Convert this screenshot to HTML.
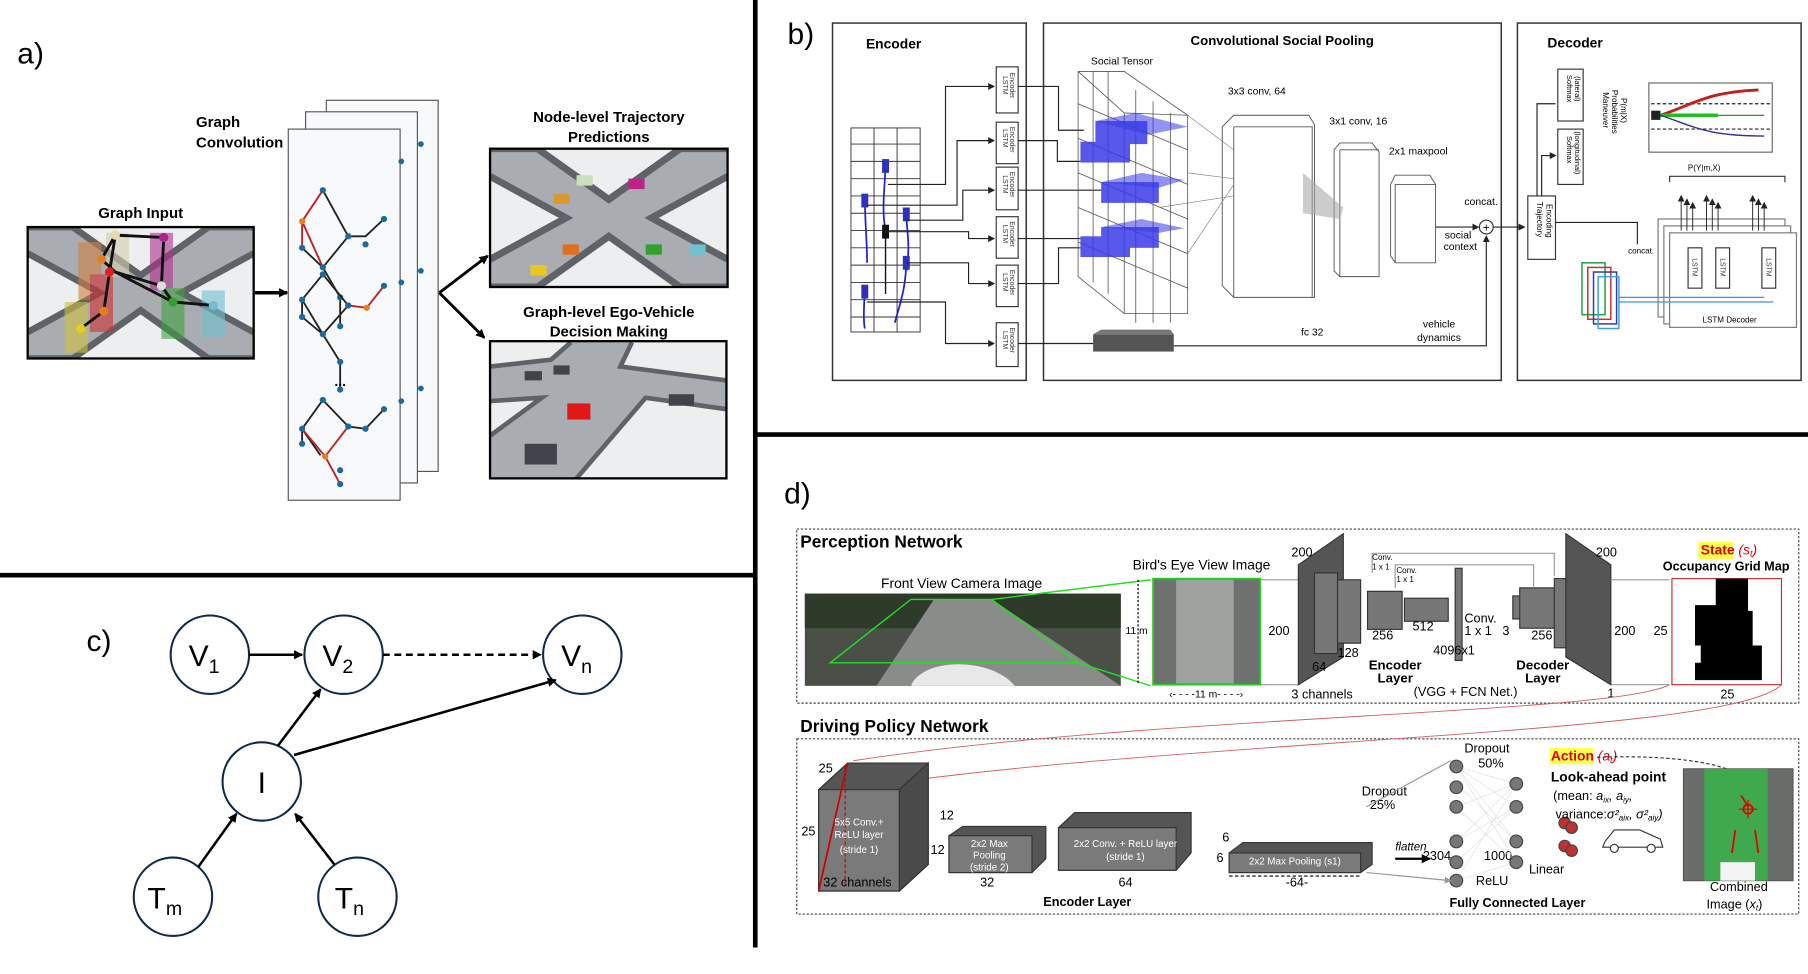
<!DOCTYPE html>
<html><head><meta charset="utf-8"><style>
html,body{margin:0;padding:0;background:#fff}
svg{display:block}
text{font-family:"Liberation Sans",sans-serif}
</style></head><body>
<svg width="1808" height="974" viewBox="0 0 1568 845" preserveAspectRatio="none" xmlns="http://www.w3.org/2000/svg">
<defs>
<marker id="ah" markerWidth="8" markerHeight="8" refX="7" refY="4" orient="auto" markerUnits="userSpaceOnUse"><path d="M0,0L8,4L0,8z" fill="#000"/></marker>
<marker id="ahs" markerWidth="6" markerHeight="6" refX="5" refY="3" orient="auto" markerUnits="userSpaceOnUse"><path d="M0,0L6,3L0,6z" fill="#222"/></marker>
<marker id="ahg" markerWidth="6" markerHeight="6" refX="5" refY="3" orient="auto" markerUnits="userSpaceOnUse"><path d="M0,0L6,3L0,6z" fill="#999"/></marker>
<marker id="ahr" markerWidth="8" markerHeight="8" refX="7" refY="4" orient="auto" markerUnits="userSpaceOnUse"><path d="M0,0L8,4L0,8z" fill="#c00"/></marker>
<g id="xroad">
<rect x="0" y="0" width="100" height="60" fill="#eceeef"/>
<path d="M0,0L20,0L50,22L80,0L100,0L100,12L68,30L100,48L100,60L80,60L50,38L20,60L0,60L0,48L32,30L0,12z" fill="#a9adb1"/>
<path d="M0,0L20,0L50,22L80,0L100,0M100,60L80,60L50,38L20,60L0,60" fill="none" stroke="#5f6368" stroke-width="3"/>
<path d="M0,12L32,30L0,48M100,12L68,30L100,48" fill="none" stroke="#5f6368" stroke-width="3"/>
</g>
</defs>

<!-- dividers -->
<rect x="653" y="0" width="4" height="822" fill="#000"/>
<rect x="0" y="497" width="655" height="4" fill="#000"/>
<rect x="655" y="375" width="913" height="4" fill="#000"/>

<text x="15" y="55" font-size="26">a)</text>
<text x="683" y="38" font-size="26">b)</text>
<text x="75" y="565" font-size="26">c)</text>
<text x="680" y="437" font-size="26">d)</text>

<!-- ===== panel a ===== -->
<text x="122" y="189" font-size="13" font-weight="bold" text-anchor="middle">Graph Input</text>
<svg x="24" y="197" width="196" height="114" viewBox="0 0 100 60" preserveAspectRatio="none"><use href="#xroad"/></svg>
<rect x="24" y="197" width="196" height="114" fill="none" stroke="#000" stroke-width="2"/>
<g opacity="0.6">
<rect x="68" y="210" width="20" height="50" fill="#d08040"/><rect x="78" y="238" width="20" height="50" fill="#d03030"/>
<rect x="56" y="262" width="20" height="44" fill="#d0c040"/><rect x="130" y="202" width="20" height="50" fill="#b03090"/>
<rect x="140" y="250" width="20" height="44" fill="#40a040"/><rect x="175" y="252" width="20" height="40" fill="#70c0d0"/>
<rect x="92" y="202" width="20" height="38" fill="#d8d0b0"/>
</g>
<g stroke="#111" stroke-width="2.5" fill="none"><path d="M88,225L100,204L142,206L140,248L100,236L88,225M100,204L95,236L90,270L70,285M140,248L150,262L185,265M100,236L150,262"/></g>
<g><circle cx="88" cy="225" r="4" fill="#e08020"/><circle cx="100" cy="204" r="4" fill="#e8d8b0"/><circle cx="142" cy="206" r="4" fill="#b0208a"/><circle cx="140" cy="248" r="4" fill="#ddd"/><circle cx="95" cy="236" r="4" fill="#e02020"/><circle cx="90" cy="270" r="4" fill="#e08020"/><circle cx="70" cy="285" r="4" fill="#e0d020"/><circle cx="150" cy="262" r="4" fill="#30a030"/><circle cx="185" cy="265" r="4" fill="#70c0d0"/></g>
<line x1="221" y1="254" x2="249" y2="254" stroke="#000" stroke-width="3" marker-end="url(#ah)"/>
<text x="170" y="110" font-size="13" font-weight="bold">Graph</text>
<text x="170" y="128" font-size="13" font-weight="bold">Convolution</text>
<rect x="283" y="87" width="97" height="322" fill="#f8f9fb" stroke="#555"/>
<rect x="265" y="97" width="97" height="322" fill="#f8f9fb" stroke="#555"/>
<rect x="250" y="112" width="97" height="322" fill="#f8f9fb" stroke="#555"/>
<g fill="#1a6aa0">
<circle cx="365" cy="125" r="2.5"/><circle cx="348" cy="140" r="2.5"/><circle cx="348" cy="348" r="2.5"/><circle cx="365" cy="337" r="2.5"/><circle cx="365" cy="235" r="2.5"/><circle cx="348" cy="245" r="2.5"/>
</g>
<g id="gr1" fill="none" stroke-width="1.6">
<path d="M280,165L302,205L317,205L333,190M302,205L280,232L262,215M280,232L295,258L295,283" stroke="#222"/>
<path d="M280,165L262,192L262,215M262,192L280,232" stroke="#c02020"/>
</g>
<g fill="#1a6aa0"><circle cx="280" cy="165" r="2.7"/><circle cx="302" cy="205" r="2.7"/><circle cx="317" cy="212" r="2.7"/><circle cx="333" cy="190" r="2.7"/><circle cx="262" cy="215" r="2.7"/><circle cx="280" cy="232" r="2.7"/><circle cx="295" cy="258" r="2.7"/><circle cx="295" cy="283" r="2.7"/><circle cx="262" cy="192" r="2.7" fill="#e08020"/></g>
<g fill="none" stroke-width="1.6">
<path d="M280,238L262,260L262,275L280,290L302,265L280,238M280,290L295,314L295,338M262,260L280,290" stroke="#222"/>
<path d="M302,265L318,267L333,248" stroke="#c02020"/>
</g>
<g fill="#1a6aa0"><circle cx="280" cy="238" r="2.7"/><circle cx="262" cy="260" r="2.7"/><circle cx="262" cy="275" r="2.7"/><circle cx="280" cy="290" r="2.7"/><circle cx="302" cy="265" r="2.7"/><circle cx="295" cy="314" r="2.7"/><circle cx="295" cy="338" r="2.7"/><circle cx="333" cy="248" r="2.7"/><circle cx="318" cy="267" r="2.7" fill="#e08020"/></g>
<text x="295" y="335" font-size="12" text-anchor="middle" font-weight="bold">...</text>
<g fill="none" stroke-width="1.6">
<path d="M280,347L262,372L262,385M280,347L302,370L317,372L333,355M262,372L278,395" stroke="#222"/>
<path d="M262,372L282,396L302,370M282,396L295,420" stroke="#c02020"/>
</g>
<g fill="#1a6aa0"><circle cx="280" cy="347" r="2.7"/><circle cx="262" cy="372" r="2.7"/><circle cx="262" cy="385" r="2.7"/><circle cx="302" cy="370" r="2.7"/><circle cx="317" cy="372" r="2.7"/><circle cx="333" cy="355" r="2.7"/><circle cx="295" cy="408" r="2.7"/><circle cx="295" cy="420" r="2.7"/><circle cx="282" cy="396" r="2.7" fill="#e08020"/></g>
<path d="M381,254L423,222" stroke="#000" stroke-width="2.5" marker-end="url(#ah)"/>
<path d="M381,254L420,293" stroke="#000" stroke-width="2.5" marker-end="url(#ah)"/>
<text x="528" y="106" font-size="13" font-weight="bold" text-anchor="middle">Node-level Trajectory</text>
<text x="528" y="123" font-size="13" font-weight="bold" text-anchor="middle">Predictions</text>
<svg x="425" y="129" width="206" height="120" viewBox="0 0 100 60" preserveAspectRatio="none"><use href="#xroad"/></svg>
<rect x="425" y="129" width="206" height="120" fill="none" stroke="#000" stroke-width="2"/>
<g><rect x="480" y="168" width="14" height="9" fill="#d89a30"/><rect x="545" y="155" width="14" height="9" fill="#c0208a"/><rect x="488" y="212" width="14" height="9" fill="#e07020"/><rect x="460" y="230" width="14" height="9" fill="#e8c820"/><rect x="560" y="212" width="14" height="9" fill="#30a030"/><rect x="598" y="212" width="14" height="9" fill="#70c0d0"/><rect x="500" y="152" width="14" height="9" fill="#c8e0c0"/></g>
<text x="528" y="275" font-size="13" font-weight="bold" text-anchor="middle">Graph-level Ego-Vehicle</text>
<text x="528" y="292" font-size="13" font-weight="bold" text-anchor="middle">Decision Making</text>
<rect x="425" y="296" width="205" height="119" fill="#eceeef"/>
<path d="M425,318L478,312L495,297L548,297L538,318L630,330L630,355L560,345L500,415L425,415L425,378L470,345L425,348z" fill="#a9adb1"/>
<path d="M425,318L478,312L495,297M548,297L538,318L630,330M630,355L560,345L500,415M425,378L470,345L425,348" fill="none" stroke="#5f6368" stroke-width="4"/>
<rect x="492" y="350" width="20" height="14" fill="#e01818"/><rect x="455" y="385" width="28" height="18" fill="#40444a"/>
<rect x="455" y="322" width="15" height="8" fill="#40444a"/><rect x="580" y="342" width="22" height="10" fill="#40444a"/><rect x="480" y="317" width="14" height="8" fill="#40444a"/>
<rect x="425" y="296" width="205" height="119" fill="none" stroke="#000" stroke-width="2"/>

<!-- ===== panel b ===== -->
<g fill="none" stroke="#333" stroke-width="1.3">
<rect x="722" y="20" width="168" height="310"/><rect x="905" y="20" width="397" height="310"/><rect x="1316" y="20" width="246" height="310"/>
</g>
<text x="751" y="42" font-size="12" font-weight="bold">Encoder</text>
<text x="1112" y="39" font-size="11.5" font-weight="bold" text-anchor="middle">Convolutional Social Pooling</text>
<text x="1342" y="41" font-size="12" font-weight="bold">Decoder</text>
<g stroke="#333" stroke-width="0.8" fill="none">
<rect x="738" y="111" width="60" height="177"/>
<path d="M758,111V288M778,111V288M738,125H798M738,140H798M738,155H798M738,170H798M738,185H798M738,200H798M738,215H798M738,230H798M738,245H798M738,260H798M738,275H798"/>
</g>
<g stroke="#2020d0" stroke-width="1.5" fill="none"><path d="M768,140C768,160 764,180 768,200M750,170C750,190 752,210 752,228M786,185C786,200 790,210 786,235M786,225C786,250 780,265 776,280M750,250C750,260 748,275 750,285"/></g>
<path d="M768,195V255" stroke="#111" stroke-width="1.2"/>
<g fill="#3030c0"><rect x="765" y="138" width="6" height="12"/><rect x="747" y="168" width="6" height="12"/><rect x="783" y="180" width="6" height="12"/><rect x="783" y="222" width="6" height="12"/><rect x="747" y="247" width="6" height="12"/></g><rect x="765" y="195" width="6" height="12" fill="#111"/>
<g fill="#fff" stroke="#333"><rect x="864" y="58" width="19" height="40"/><rect x="864" y="106" width="19" height="36"/><rect x="864" y="145" width="19" height="37"/><rect x="864" y="188" width="19" height="36"/><rect x="864" y="230" width="19" height="36"/><rect x="864" y="280" width="19" height="38"/></g>
<g font-size="6" fill="#333"><text transform="translate(870,66) rotate(90)">LSTM</text><text transform="translate(876,63) rotate(90)">Encoder</text>
<text transform="translate(870,112) rotate(90)">LSTM</text><text transform="translate(876,110) rotate(90)">Encoder</text>
<text transform="translate(870,152) rotate(90)">LSTM</text><text transform="translate(876,149) rotate(90)">Encoder</text>
<text transform="translate(870,195) rotate(90)">LSTM</text><text transform="translate(876,192) rotate(90)">Encoder</text>
<text transform="translate(870,237) rotate(90)">LSTM</text><text transform="translate(876,234) rotate(90)">Encoder</text>
<text transform="translate(870,287) rotate(90)">LSTM</text><text transform="translate(876,284) rotate(90)">Encoder</text></g>
<g stroke="#222" stroke-width="1" fill="none" marker-end="url(#ahs)">
<path d="M770,160H820V75H862"/><path d="M752,178H830V122H862"/><path d="M786,191H835V165H862"/><path d="M770,201H840V207H862"/><path d="M786,228H840V246H862"/><path d="M752,262H820V298H862"/>
</g>
<g stroke="#222" stroke-width="1" fill="none">
<path d="M883,75H918V113H940"/><path d="M883,122H917V140H937"/><path d="M883,165H955"/><path d="M883,207H937"/><path d="M883,246H918V215H937"/><path d="M883,298H948"/>
</g>
<text x="973" y="56" font-size="9" text-anchor="middle">Social Tensor</text>
<g stroke="#555" stroke-width="0.7" fill="none">
<path d="M935,62L975,62L1030,100L1030,272L975,272M935,62L935,240L975,272L975,98L935,62M975,98L1030,100"/>
<path d="M948,62V245M961,62V255M985,78V280M1000,88V280M1015,98V280M935,90L1030,130M935,120L1030,160M935,150L1030,190M935,180L1030,220M935,210L1030,250"/>
</g>
<g fill="#3a3ae8" opacity="0.85"><rect x="950" y="105" width="45" height="20"/><rect x="937" y="123" width="43" height="18"/><rect x="955" y="158" width="50" height="18"/><rect x="955" y="197" width="50" height="18"/><rect x="937" y="205" width="43" height="18"/></g>
<g fill="#3a3ae8" opacity="0.55"><path d="M950,105L985,98L1030,110L995,117z"/><path d="M955,158L990,150L1027,156L1005,163z"/><path d="M955,197L990,190L1027,198L1005,202z"/></g>
<text x="1090" y="82" font-size="9" text-anchor="middle">3x3 conv, 64</text>
<g stroke="#555" stroke-width="0.8" fill="none"><path d="M1060,110L1070,100L1135,100L1140,108L1140,258L1070,258L1060,248z M1070,110H1138V258M1070,110V258"/></g>
<g stroke="#888" stroke-width="0.6" fill="none"><path d="M1030,100L1070,130M1030,150L1070,155M1005,180L1070,170M1030,220L1070,160"/></g>
<text x="1178" y="108" font-size="9" text-anchor="middle">3x1 conv, 16</text>
<path d="M1157,130L1162,124L1190,124L1196,132L1196,240L1162,240L1157,235z M1162,130H1196M1162,130V240" stroke="#555" stroke-width="0.8" fill="none"/>
<path d="M1130,150L1165,180L1162,190L1130,185z" fill="#aaa" opacity="0.6"/>
<text x="1230" y="134" font-size="9" text-anchor="middle">2x1 maxpool</text>
<path d="M1206,160L1210,152L1240,152L1245,160L1245,228L1210,228L1206,222z M1210,160H1245M1210,160V228" stroke="#555" stroke-width="0.8" fill="none"/>
<text x="1270" y="178" font-size="9">concat.</text>
<text x="1253" y="207" font-size="9">social</text><text x="1252" y="217" font-size="9">context</text>
<circle cx="1289" cy="197" r="6" fill="#fff" stroke="#333"/><text x="1289" y="201" font-size="10" text-anchor="middle">+</text>
<path d="M1245,197H1282" stroke="#222" marker-end="url(#ahs)"/>
<path d="M1295,197H1322" stroke="#222" marker-end="url(#ahs)"/>
<rect x="948" y="290" width="70" height="15" fill="#555"/><path d="M948,290L955,286H1015L1018,290" fill="#777"/>
<text x="1138" y="291" font-size="9" text-anchor="middle">fc 32</text>
<text x="1248" y="284" font-size="9" text-anchor="middle">vehicle</text><text x="1248" y="296" font-size="9" text-anchor="middle">dynamics</text>
<path d="M1018,300H1289V205" stroke="#222" fill="none" marker-end="url(#ahs)"/>
<rect x="1325" y="170" width="24" height="55" fill="#fff" stroke="#333"/>
<text transform="translate(1333,175) rotate(90)" font-size="7">Trajectory</text><text transform="translate(1341,177) rotate(90)" font-size="7">Encoding</text>
<rect x="1351" y="60" width="22" height="45" fill="#fff" stroke="#333"/><rect x="1351" y="112" width="22" height="48" fill="#fff" stroke="#333"/>
<text transform="translate(1359,65) rotate(90)" font-size="6.5">Softmax</text><text transform="translate(1366,66) rotate(90)" font-size="6.5">(lateral)</text>
<text transform="translate(1359,118) rotate(90)" font-size="6.5">Softmax</text><text transform="translate(1366,114) rotate(90)" font-size="6.5">(longitudinal)</text>
<text transform="translate(1390,80) rotate(90)" font-size="7">Maneuver</text><text transform="translate(1398,78) rotate(90)" font-size="7">Probabilities</text><text transform="translate(1406,85) rotate(90)" font-size="7">P(m|X)</text>
<path d="M1333,170V90H1349M1337,170V135H1349" stroke="#222" fill="none" marker-end="url(#ahs)"/>
<rect x="1430" y="72" width="107" height="60" fill="#fff" stroke="#666"/>
<path d="M1432,90H1535M1432,112H1535" stroke="#222" stroke-dasharray="3,2"/>
<path d="M1440,100C1470,90 1480,80 1525,78" stroke="#c02020" stroke-width="2.5" fill="none"/>
<path d="M1440,100H1490" stroke="#20c020" stroke-width="3"/><path d="M1490,100H1530" stroke="#208020"/>
<path d="M1440,100C1470,110 1480,118 1530,118" stroke="#303090" stroke-width="1.2" fill="none"/>
<rect x="1432" y="96" width="8" height="8" fill="#222"/>
<text x="1478" y="148" font-size="7" text-anchor="middle">P(Y|m,X)</text>
<path d="M1448,158V153H1548V158" stroke="#333" fill="none"/>
<g fill="#fff" stroke="#777"><rect x="1438" y="190" width="110" height="85"/><rect x="1443" y="196" width="110" height="85"/><rect x="1448" y="202" width="110" height="82"/></g>
<g fill="#fff" stroke="#333"><rect x="1464" y="215" width="12" height="35"/><rect x="1488" y="215" width="12" height="35"/><rect x="1528" y="215" width="12" height="35"/></g>
<g font-size="6" fill="#333"><text transform="translate(1468,224) rotate(90)">LSTM</text><text transform="translate(1492,224) rotate(90)">LSTM</text><text transform="translate(1532,224) rotate(90)">LSTM</text></g>
<text x="1500" y="280" font-size="7" text-anchor="middle">LSTM Decoder</text>
<g stroke="#222" stroke-width="0.8" marker-end="url(#ahs)"><path d="M1458,200V170"/><path d="M1463,200V173"/><path d="M1468,200V176"/><path d="M1480,200V170"/><path d="M1485,200V173"/><path d="M1490,200V176"/><path d="M1520,200V170"/><path d="M1525,200V173"/><path d="M1530,200V176"/></g>
<path d="M1349,193H1420V212" stroke="#222" fill="none"/>
<g fill="none" stroke-width="1.3"><rect x="1372" y="228" width="20" height="45" stroke="#20a040"/><rect x="1377" y="232" width="20" height="45" stroke="#d03030"/><rect x="1382" y="236" width="20" height="45" stroke="#3040a0"/><rect x="1386" y="240" width="18" height="45" stroke="#40a0e0"/></g>
<path d="M1404,262H1538M1404,258H1530" stroke="#4090e0"/>
<text x="1412" y="220" font-size="7">concat.</text>

<!-- ===== panel c ===== -->
<g fill="#fff" stroke="#0e2a4a" stroke-width="1.8">
<circle cx="182" cy="568" r="34"/><circle cx="298" cy="568" r="34"/><circle cx="505" cy="568" r="34"/><circle cx="227" cy="678" r="34"/><circle cx="150" cy="778" r="34"/><circle cx="310" cy="778" r="34"/>
</g>
<g font-size="26" text-anchor="middle">
<text x="177" y="578">V<tspan font-size="17" dy="6">1</tspan></text>
<text x="293" y="578">V<tspan font-size="17" dy="6">2</tspan></text>
<text x="500" y="578">V<tspan font-size="17" dy="6">n</tspan></text>
<text x="227" y="688">I</text>
<text x="143" y="788">T<tspan font-size="17" dy="6">m</tspan></text>
<text x="303" y="788">T<tspan font-size="17" dy="6">n</tspan></text>
</g>
<g stroke="#000" stroke-width="2.2" fill="none">
<path d="M216,568H262" marker-end="url(#ah)"/>
<path d="M332,568H469" stroke-dasharray="6,4" marker-end="url(#ah)"/>
<path d="M241,647L278,598" marker-end="url(#ah)"/>
<path d="M255,655L482,590" marker-end="url(#ah)"/>
<path d="M172,752L205,706" marker-end="url(#ah)"/>
<path d="M290,750L256,706" marker-end="url(#ah)"/>
</g>

<!-- ===== panel d ===== -->
<rect x="691" y="459" width="869" height="151" fill="none" stroke="#444" stroke-dasharray="2,1.5"/>
<rect x="691" y="641" width="869" height="152" fill="none" stroke="#444" stroke-dasharray="2,1.5"/>
<text x="694" y="475" font-size="15" font-weight="bold">Perception Network</text>
<text x="694" y="635" font-size="15" font-weight="bold">Driving Policy Network</text>
<text x="834" y="510" font-size="12" text-anchor="middle">Front View Camera Image</text>
<rect x="698" y="515" width="274" height="80" fill="#4a4f48"/>
<rect x="698" y="515" width="274" height="30" fill="#2e3a2a"/>
<path d="M760,595L810,520L860,520L972,595z" fill="#8a8c8a"/>
<path d="M790,595C800,570 860,570 880,595z" fill="#e8e8e8"/>
<path d="M720,575L790,520L860,520L935,575z" fill="none" stroke="#20e020" stroke-width="1.2"/>
<path d="M860,520L998,503M935,575L998,595" stroke="#20e020" stroke-width="1.2"/>
<text x="1042" y="494" font-size="12" text-anchor="middle">Bird's Eye View Image</text>
<rect x="1000" y="502" width="93" height="92" fill="#6e716e" stroke="#20d020" stroke-width="1.5"/>
<rect x="1020" y="503" width="50" height="90" fill="#a0a2a0"/>
<path d="M987,503V594" stroke="#000" stroke-dasharray="2,1.5"/><text x="976" y="550" font-size="9">11 m</text>
<text x="1046" y="605" font-size="9" text-anchor="middle">‹- - - -11 m- - - -›</text>
<path d="M1093,503H1126M1093,594H1126" stroke="#999"/>
<path d="M1126,490L1165,463L1165,570L1126,594z" fill="#555" stroke="#333"/>
<rect x="1140" y="497" width="20" height="70" fill="#777" stroke="#333"/>
<rect x="1160" y="503" width="20" height="55" fill="#777" stroke="#333"/>
<rect x="1186" y="513" width="30" height="33" fill="#777" stroke="#333"/>
<rect x="1218" y="519" width="38" height="20" fill="#777" stroke="#333"/>
<rect x="1262" y="493" width="6" height="80" fill="#777" stroke="#333"/>
<rect x="1312" y="517" width="8" height="20" fill="#777" stroke="#333"/>
<rect x="1318" y="510" width="35" height="35" fill="#777" stroke="#333"/>
<rect x="1348" y="502" width="15" height="60" fill="#777" stroke="#333"/>
<path d="M1358,463L1397,490L1397,594L1358,570z" fill="#555" stroke="#333"/>
<path d="M1190,497V480H1348V500M1210,510V490H1330V510" stroke="#999" fill="none"/>
<g font-size="11"><text x="1120" y="483">200</text><text x="1100" y="551">200</text><text x="1138" y="582">64</text><text x="1160" y="570">128</text><text x="1190" y="555">256</text><text x="1225" y="547">512</text><text x="1243" y="568">4096x1</text><text x="1328" y="555">256</text><text x="1384" y="483">200</text><text x="1400" y="551">200</text><text x="1434" y="551">25</text><text x="1492" y="606">25</text><text x="1394" y="605">1</text><text x="1120" y="606">3 channels</text><text x="1226" y="604">(VGG + FCN Net.)</text><text x="1270" y="540">Conv.</text><text x="1270" y="551">1 x 1</text><text x="1303" y="551">3</text></g>
<g font-size="7"><text x="1190" y="486">Conv.</text><text x="1190" y="494">1 x 1</text><text x="1211" y="497">Conv.</text><text x="1211" y="505">1 x 1</text></g>
<g font-size="11.5" font-weight="bold" text-anchor="middle"><text x="1210" y="581">Encoder</text><text x="1210" y="592">Layer</text><text x="1338" y="581">Decoder</text><text x="1338" y="592">Layer</text></g>
<path d="M1397,503H1448M1397,594H1448" stroke="#999"/>
<rect x="1450" y="502" width="95" height="92" fill="#fff" stroke="#c03030"/>
<path d="M1488,502H1516V530H1520V560H1528V590H1470V575H1475V560H1470V525H1488z" fill="#000"/>
<rect x="1473" y="470" width="30" height="15" fill="#ff0" opacity="0.7"/>
<text x="1475" y="481" font-size="12" font-weight="bold" fill="#e00000">State <tspan font-style="italic" font-weight="normal">(s<tspan font-size="8" dy="2">t</tspan><tspan dy="-2">)</tspan></tspan></text>
<text x="1497" y="495" font-size="11" font-weight="bold" text-anchor="middle">Occupancy Grid Map</text>
<path d="M1448,594C1400,620 1000,620 740,660M1545,594C1500,640 1000,640 715,688" stroke="#d06060" fill="none" stroke-width="0.8" marker-end="url(#ahr)"/>
<!-- cubes -->
<g stroke="#333" stroke-width="1">
<path d="M710,685L735,662H805V750L780,773H710z" fill="#555"/><rect x="710" y="685" width="70" height="88" fill="#7a7a7a"/><path d="M780,685L805,662V750L780,773z" fill="#4a4a4a"/>
<path d="M823,725L835,717H907V745L895,757H823z" fill="#555"/><rect x="823" y="725" width="72" height="32" fill="#7a7a7a"/>
<path d="M918,718L932,705H1033V740L1020,755H918z" fill="#555"/><rect x="918" y="718" width="102" height="37" fill="#7a7a7a"/>
<path d="M1066,740L1078,731H1190V750L1180,757H1066z" fill="#555"/><rect x="1066" y="740" width="114" height="17" fill="#7a7a7a"/>
</g>
<path d="M735,662L710,773" stroke="#c00" stroke-width="1.5"/><path d="M733,665V770" stroke="#c00" stroke-dasharray="3,2"/>
<g font-size="8.5" fill="#fff" text-anchor="middle"><text x="745" y="716">5x5 Conv.+</text><text x="745" y="727">ReLU layer</text><text x="745" y="740">(stride 1)</text><text x="858" y="735">2x2 Max</text><text x="858" y="745">Pooling</text><text x="858" y="755">(stride 2)</text><text x="976" y="735">2x2 Conv. + ReLU layer</text><text x="976" y="746">(stride 1)</text><text x="1123" y="750">2x2 Max Pooling (s1)</text></g>
<g font-size="11"><text x="710" y="670">25</text><text x="695" y="725">25</text><text x="815" y="711">12</text><text x="807" y="741">12</text><text x="1060" y="730">6</text><text x="1055" y="748">6</text><text x="714" y="769">32 channels</text><text x="850" y="769">32</text><text x="970" y="769">64</text><text x="1115" y="769">-64-</text><text x="1181" y="690">Dropout</text><text x="1188" y="702">25%</text><text x="1234" y="746">2304</text><text x="1287" y="746">1000</text><text x="1270" y="653">Dropout</text><text x="1282" y="666">50%</text><text x="1280" y="768">ReLU</text><text x="1326" y="758">Linear</text><text x="1483" y="773">Combined</text><text x="1480" y="788">Image (<tspan font-style="italic">x<tspan font-size="7" dy="2">t</tspan></tspan><tspan dy="-2">)</tspan></text></g>
<text x="1210" y="738" font-size="10" font-style="italic">flatten</text><path d="M1210,745H1240" stroke="#000" stroke-width="2" marker-end="url(#ah)"/>
<path d="M1066,760H1180" stroke="#000" stroke-dasharray="3,2"/>
<g font-size="11" font-weight="bold" text-anchor="middle"><text x="943" y="786">Encoder Layer</text><text x="1316" y="787">Fully Connected Layer</text></g>
<g stroke="#ddd" stroke-width="0.5">
<path d="M1263,665L1315,680M1263,665L1315,700M1263,665L1315,730M1263,665L1315,748M1263,700L1315,680M1263,700L1315,748M1263,730L1315,680M1263,730L1315,700M1263,764L1315,680M1263,764L1315,748M1263,680L1315,730M1263,748L1315,700"/>
</g>
<g fill="#777" stroke="#444"><circle cx="1263" cy="665" r="5.5"/><circle cx="1263" cy="683" r="5.5"/><circle cx="1263" cy="700" r="5.5"/><circle cx="1263" cy="730" r="5.5"/><circle cx="1263" cy="748" r="5.5"/><circle cx="1263" cy="764" r="5.5"/><circle cx="1315" cy="680" r="5.5"/><circle cx="1315" cy="700" r="5.5"/><circle cx="1315" cy="730" r="5.5"/><circle cx="1315" cy="748" r="5.5"/><circle cx="1357" cy="714" r="5" fill="#c03030"/><circle cx="1357" cy="734" r="5" fill="#c03030"/><circle cx="1363" cy="718" r="5" fill="#c03030"/><circle cx="1363" cy="738" r="5" fill="#c03030"/></g>
<path d="M1185,700L1258,660M1185,757L1258,764" stroke="#999" fill="none" marker-end="url(#ahg)"/>
<path d="M1392,730L1400,720H1422L1440,728L1442,735H1390z" fill="#fff" stroke="#333"/><circle cx="1400" cy="736" r="3.5" fill="#fff" stroke="#333"/><circle cx="1432" cy="736" r="3.5" fill="#fff" stroke="#333"/>
<rect x="1344" y="649" width="38" height="14" fill="#ff0" opacity="0.7"/>
<text x="1345" y="660" font-size="12" font-weight="bold" fill="#e00000">Action <tspan font-style="italic" font-weight="normal">(a<tspan font-size="8" dy="2">t</tspan><tspan dy="-2">)</tspan></tspan></text>
<text x="1345" y="678" font-size="12" font-weight="bold">Look-ahead point</text>
<text x="1347" y="694" font-size="11">(mean: <tspan font-style="italic">a<tspan font-size="7" dy="2">ix</tspan><tspan dy="-2">, a</tspan><tspan font-size="7" dy="2">iy</tspan><tspan dy="-2">,</tspan></tspan></text>
<text x="1349" y="710" font-size="11">variance:<tspan font-style="italic">σ²<tspan font-size="7" dy="2">aix</tspan><tspan dy="-2">, σ²</tspan><tspan font-size="7" dy="2">aiy</tspan><tspan dy="-2">)</tspan></tspan></text>
<path d="M1385,657C1440,655 1480,660 1500,668" stroke="#333" stroke-dasharray="3,2" fill="none"/>
<rect x="1460" y="667" width="95" height="97" fill="#6a6e6a" stroke="#555"/>
<rect x="1478" y="667" width="55" height="97" fill="#3cae4a" opacity="0.9"/>
<rect x="1492" y="748" width="30" height="16" fill="#f4f4f4"/>
<path d="M1510,690L1516,700M1502,740L1505,720M1525,740L1522,720" stroke="#e00000" stroke-width="1.5"/>
<circle cx="1516" cy="702" r="4" fill="none" stroke="#e00000" stroke-width="1.5"/><path d="M1508,702H1524M1516,694V710" stroke="#e00000"/>
</svg>
</body></html>
